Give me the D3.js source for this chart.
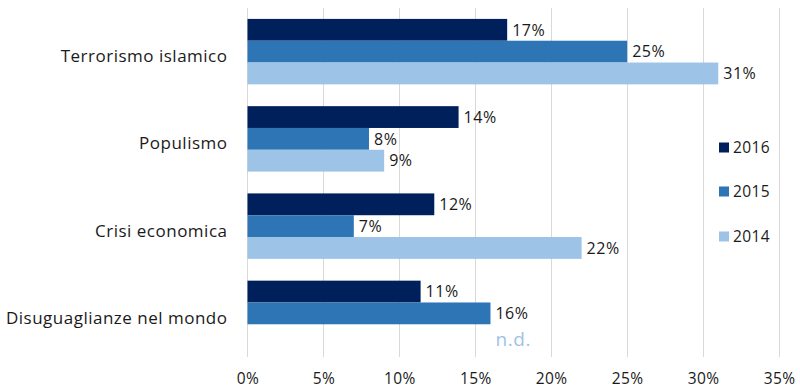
<!DOCTYPE html>
<html>
<head>
<meta charset="utf-8">
<script src="https://cdn.jsdelivr.net/npm/d3@7"></script>
<style>
  html, body { margin: 0; padding: 0; background: #fff; }
  svg { display: block; font-family: "Open Sans", sans-serif; }
</style>
</head>
<body>
<svg id="chart" width="800" height="388"></svg>
<script>
// Categories, top to bottom
const categories = ["Terrorismo islamico", "Populismo", "Crisi economica", "Disuguaglianze nel mondo"];
// Series, drawn top to bottom within each group
const seriesNames = ["2016", "2015", "2014"];
const values2016 = [17.1, 13.9, 12.3, 11.4];
const values2015 = [25, 8, 7, 16];
const values2014 = [31, 9, 22, null];   // null = not available (n.d.)
const tickValues = [0, 5, 10, 15, 20, 25, 30, 35];
const colors = ["#00205B", "#2E75B6", "#9DC3E6"];

const seriesValues = [values2016, values2015, values2014];

const svg = d3.select("#chart");
const plot = { left: 247.5, right: 779, top: 8, bottom: 357 };
const textColor = "#1a1a1a";

const x = d3.scaleLinear().domain([0, 35]).range([plot.left, plot.right]);
const y0 = d3.scaleBand().domain(categories).range([plot.top, plot.bottom]).paddingInner(0.25).paddingOuter(0.125);
const y1 = d3.scaleBand().domain(seriesNames).range([0, y0.bandwidth()]);

// Vertical gridlines
svg.append("g")
  .selectAll("line")
  .data(tickValues)
  .join("line")
  .attr("x1", d => x(d)).attr("x2", d => x(d))
  .attr("y1", plot.top).attr("y2", plot.bottom)
  .attr("stroke", "#d9d9d9").attr("stroke-width", 1)
  .attr("shape-rendering", "crispEdges");

// X axis tick labels
const xAxis = d3.axisBottom(x).tickValues(tickValues).tickSize(0).tickPadding(0)
  .tickFormat(d => d + "%");
const gx = svg.append("g").attr("transform", `translate(0, ${plot.bottom + 16})`).call(xAxis);
gx.select(".domain").remove();
gx.selectAll("text").attr("font-size", 15.5).attr("fill", textColor)
  .attr("font-family", "'Open Sans', sans-serif").attr("letter-spacing", 0.4);

// Category labels
const yAxis = d3.axisLeft(y0).tickSize(0).tickPadding(20);
const gy = svg.append("g").attr("transform", `translate(${plot.left}, 0)`).call(yAxis);
gy.select(".domain").remove();
gy.selectAll("text").attr("font-size", 17).attr("fill", textColor).attr("dy", "0.62em")
  .attr("font-family", "'Open Sans', sans-serif").attr("letter-spacing", 0.5);

// Bars
const rows = [];
categories.forEach((c, i) => {
  seriesNames.forEach((s, j) => {
    rows.push({ cat: c, series: s, value: seriesValues[j][i], color: colors[j] });
  });
});

const fmt = v => Math.round(v) + "%";

svg.append("g")
  .selectAll("rect")
  .data(rows.filter(r => r.value != null))
  .join("rect")
  .attr("x", x(0))
  .attr("y", d => y0(d.cat) + y1(d.series))
  .attr("width", d => x(d.value) - x(0))
  .attr("height", y1.bandwidth())
  .attr("fill", d => d.color);

// Value labels
svg.append("g")
  .selectAll("text")
  .data(rows.filter(r => r.value != null))
  .join("text")
  .attr("x", d => x(d.value) + 5)
  .attr("y", d => y0(d.cat) + y1(d.series) + y1.bandwidth() / 2)
  .attr("dy", "0.36em")
  .attr("font-size", 16)
  .attr("letter-spacing", 0.5)
  .attr("fill", textColor)
  .text(d => fmt(d.value));

// Missing values marked "n.d."
svg.append("g")
  .selectAll("text")
  .data(rows.filter(r => r.value == null))
  .join("text")
  .attr("x", d => x(values2015[categories.indexOf(d.cat)]) + 5)
  .attr("y", d => y0(d.cat) + y1(d.series) + y1.bandwidth() / 2 + 4)
  .attr("dy", "0.36em")
  .attr("font-size", 19)
  .attr("letter-spacing", 0.6)
  .attr("fill", d => d.color)
  .text("n.d.");

// Legend
const legend = svg.append("g").attr("transform", "translate(719, 0)");
const legendY = [147.5, 191.5, 236.5];
const li = legend.selectAll("g")
  .data(seriesNames)
  .join("g")
  .attr("transform", (d, i) => `translate(0, ${legendY[i]})`);
li.append("rect")
  .attr("x", 0).attr("y", -5).attr("width", 10).attr("height", 10)
  .attr("fill", (d, i) => colors[i]);
li.append("text")
  .attr("x", 14).attr("y", 0).attr("dy", "0.36em")
  .attr("font-size", 15.5).attr("letter-spacing", 0.4).attr("fill", textColor)
  .text(d => d);
</script>
</body>
</html>
